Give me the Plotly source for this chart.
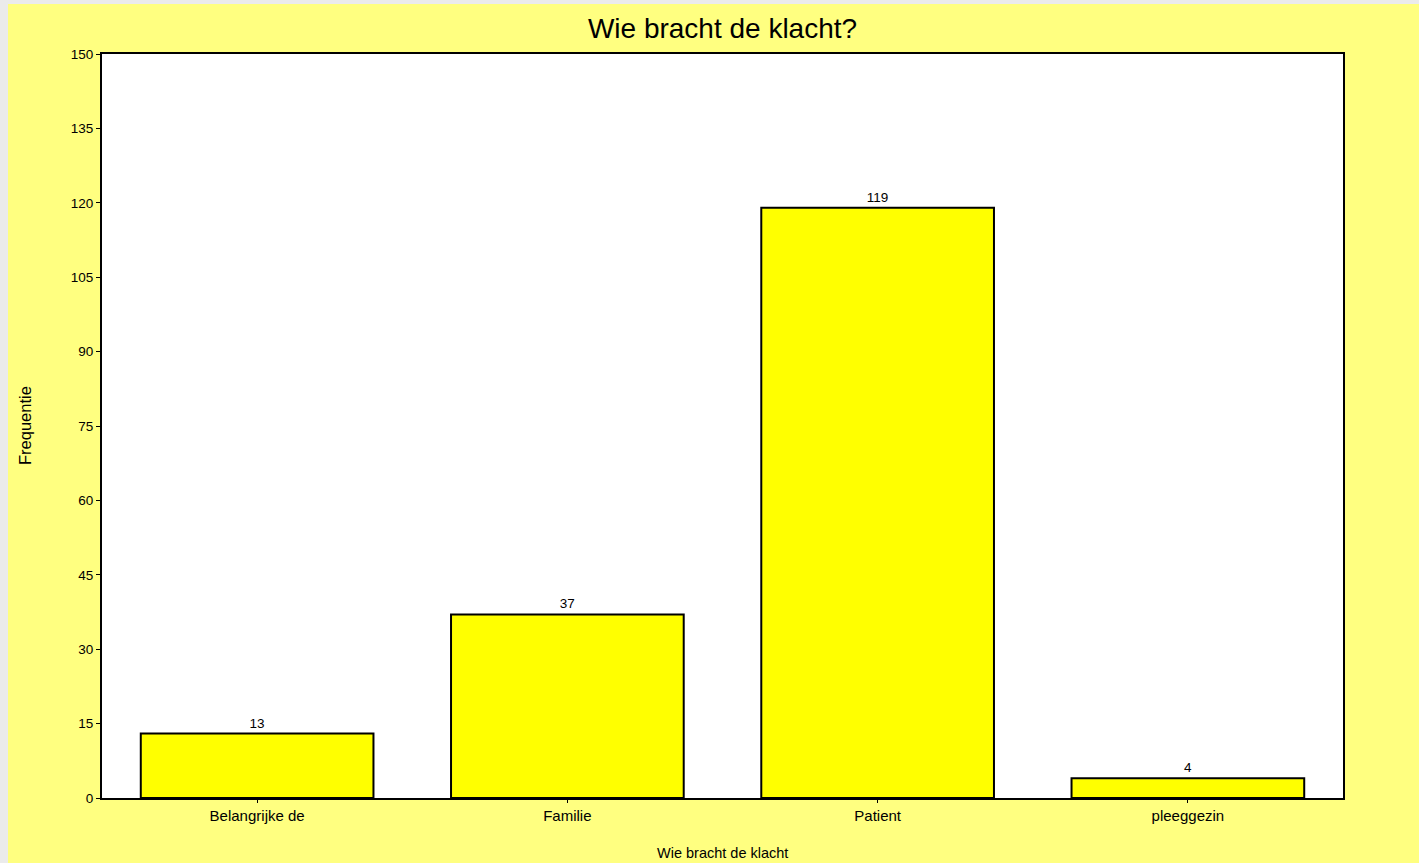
import plotly.graph_objects as go

categories = ["Belangrijke de", "Familie", "Patient", "pleeggezin"]
counts = [13, 37, 119, 4]
y_ticks = [0, 15, 30, 45, 60, 75, 90, 105, 120, 135, 150]

W, H = 1419, 863
ML, MR, MT, MB = 102, 76, 54, 65
PW = W - ML - MR
PH = H - MT - MB

def px_x(p):
    return (p - ML) / PW

def px_y(p):
    return (H - MB - p) / PH

fig = go.Figure(go.Bar(
    x=categories, y=counts,
    marker=dict(color="#FFFF00", line=dict(color="black", width=2)),
    text=[str(c) for c in counts], textposition="outside",
    textfont=dict(size=13.5, color="black"),
    cliponaxis=False,
))

gray = "#EBEBEB"
fig.add_shape(type="rect", xref="paper", yref="paper",
              x0=px_x(0), x1=px_x(8), y0=px_y(H), y1=px_y(0),
              fillcolor=gray, line=dict(width=0), layer="above")
fig.add_shape(type="rect", xref="paper", yref="paper",
              x0=px_x(0), x1=px_x(W), y0=px_y(4), y1=px_y(0),
              fillcolor=gray, line=dict(width=0), layer="above")

fig.add_annotation(text="Wie bracht de klacht", xref="paper", yref="paper",
                   x=0.5, y=px_y(853), xanchor="center", yanchor="middle",
                   showarrow=False, font=dict(size=14.5))
fig.add_annotation(text="Frequentie", xref="paper", yref="paper",
                   x=px_x(25), y=0.5, xanchor="center", yanchor="middle",
                   textangle=-90, showarrow=False, font=dict(size=16.5))

fig.update_layout(
    width=W, height=H,
    margin=dict(l=ML, r=MR, t=MT, b=MB),
    paper_bgcolor="#FFFF80",
    plot_bgcolor="white",
    font=dict(family="Liberation Sans, Arial, sans-serif", color="black", size=13.5),
    title=dict(text="Wie bracht de klacht?", x=0.5, xref="paper",
               y=1 - 28 / H, yanchor="middle", font=dict(size=28)),
    bargap=0.25,
    showlegend=False,
    xaxis=dict(
        showline=True, linecolor="black", linewidth=2, mirror=True,
        ticks="outside", ticklen=3, tickcolor="black",
        showgrid=False, automargin=False,
        tickfont=dict(size=15),
    ),
    yaxis=dict(
        range=[0, 150], tickvals=y_ticks,
        showline=True, linecolor="black", linewidth=2, mirror=True,
        ticks="outside", ticklen=4, tickcolor="black",
        showgrid=False, zeroline=False, automargin=False,
        tickfont=dict(size=13.5),
    ),
)

fig.write_html("out.html")
